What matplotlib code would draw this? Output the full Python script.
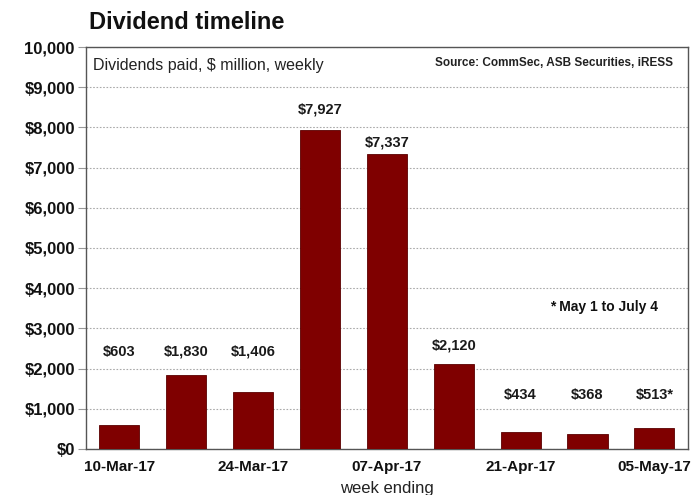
import matplotlib.pyplot as plt
from matplotlib.ticker import FuncFormatter

plt.rcParams['font.family'] = ['Liberation Sans', 'DejaVu Sans']

weeks = ['10-Mar-17', '17-Mar-17', '24-Mar-17', '31-Mar-17', '07-Apr-17',
         '14-Apr-17', '21-Apr-17', '28-Apr-17', '05-May-17']
dividends = [603, 1830, 1406, 7927, 7337, 2120, 434, 368, 513]
value_labels = ['$603', '$1,830', '$1,406', '$7,927', '$7,337', '$2,120',
                '$434', '$368', '$513*']

# where each value label sits (bottom edge, data units)
label_y = [2240, 2240, 2240, 8260, 7440, 2390, 1170, 1170, 1170]

fig = plt.figure(figsize=(6.99, 4.95), dpi=100)
ax = fig.add_axes([0.123, 0.093, 0.861, 0.812])

x = range(len(weeks))
ax.bar(x, dividends, width=0.6, color='#7f0000', edgecolor='#5a0000',
       linewidth=0.6, zorder=3)

for i, (lab, ly) in enumerate(zip(value_labels, label_y)):
    ax.text(i, ly, lab, ha='center', va='bottom', fontsize=10.5,
            fontweight='bold', color='#1a1a1a', zorder=4)

ax.set_xlim(-0.5, len(weeks) - 0.5)
ax.set_ylim(0, 10000)
ax.set_yticks(range(0, 10001, 1000))


def money(v, pos):
    if v >= 10000:
        return f'{int(v):,}'
    return f'${int(v):,}'


ax.yaxis.set_major_formatter(FuncFormatter(money))
ax.set_xticks(list(x)[::2])
ax.set_xticklabels(weeks[::2])

for lab in ax.get_yticklabels():
    lab.set_fontweight('bold')
    lab.set_fontsize(12)
for lab in ax.get_xticklabels():
    lab.set_fontweight('bold')
    lab.set_fontsize(11)

ax.tick_params(axis='y', length=6, color='#999999', pad=2, colors='#111111')
ax.tick_params(axis='x', length=0, pad=8, colors='#111111')
ax.yaxis.grid(True, linestyle=(0, (1.5, 1.5)), color='#aaaaaa', linewidth=0.8,
              zorder=0)

for side in ['left', 'top', 'right', 'bottom']:
    ax.spines[side].set_color('#555555')
    ax.spines[side].set_linewidth(1.0)

ax.set_xlabel('week ending', fontsize=12, labelpad=5, color='#222222')

fig.text(0.127, 0.955, 'Dividend timeline', fontsize=17, fontweight='bold',
         ha='left', va='center', color='#111111')
ax.text(0.012, 0.955, 'Dividends paid, $ million, weekly', transform=ax.transAxes,
        fontsize=11.5, ha='left', va='center', color='#222222')
ax.text(0.975, 0.96, 'Source: CommSec, ASB Securities, iRESS', transform=ax.transAxes,
        fontsize=8.5, fontweight='bold', ha='right', va='center', color='#222222')
ax.text(7.24, 3530, '* May 1 to July 4', fontsize=10, fontweight='bold',
        ha='center', va='center', color='#111111')

fig.savefig('out.png', dpi=100)
